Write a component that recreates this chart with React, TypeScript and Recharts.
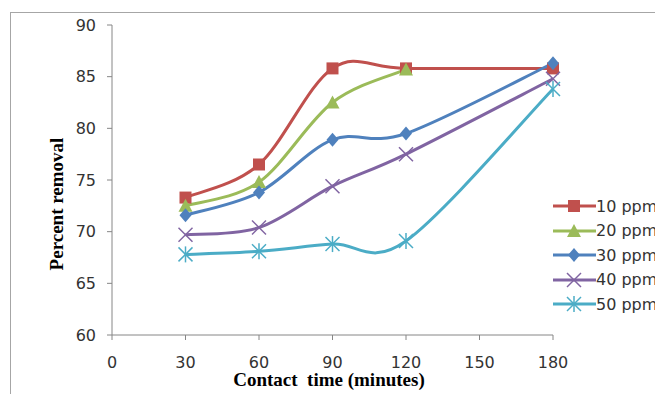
import React from 'react';
import { LineChart, Line, XAxis, YAxis } from 'recharts';

const times = [30, 60, 90, 120, 180];
const ppm10 = [73.3, 76.5, 85.8, 85.8, 85.8];
const ppm20 = [72.5, 74.8, 82.5, 85.7, null];
const ppm30 = [71.6, 73.8, 78.9, 79.5, 86.3];
const ppm40 = [69.7, 70.4, 74.4, 77.5, 84.8];
const ppm50 = [67.8, 68.1, 68.8, 69.1, 83.8];
const xTicks = [0, 30, 60, 90, 120, 150, 180];
const yTicks = [60, 65, 70, 75, 80, 85, 90];

const data = times.map((t, i) => ({
  t,
  p10: ppm10[i],
  p20: ppm20[i],
  p30: ppm30[i],
  p40: ppm40[i],
  p50: ppm50[i],
}));

// Excel-style smoothed line (Catmull-Rom through the points)
const excelCurve = (context: any) => {
  let pts: [number, number][] = [];
  return {
    areaStart() {},
    areaEnd() {},
    lineStart() {
      pts = [];
    },
    lineEnd() {
      const n = pts.length;
      if (!n) return;
      context.moveTo(pts[0][0], pts[0][1]);
      for (let i = 0; i < n - 1; i++) {
        const p0 = pts[i - 1] || pts[i];
        const p1 = pts[i];
        const p2 = pts[i + 1];
        const p3 = pts[i + 2] || p2;
        context.bezierCurveTo(
          p1[0] + (p2[0] - p0[0]) / 6,
          p1[1] + (p2[1] - p0[1]) / 6,
          p2[0] - (p3[0] - p1[0]) / 6,
          p2[1] - (p3[1] - p1[1]) / 6,
          p2[0],
          p2[1]
        );
      }
    },
    point(x: number, y: number) {
      pts.push([+x, +y]);
    },
  };
};

type Kind = 'square' | 'triangle' | 'diamond' | 'x' | 'star';

const marker = (kind: Kind, color: string, cx: number, cy: number, key?: any) => {
  const s = 6;
  if (kind === 'square')
    return <rect key={key} x={cx - s} y={cy - s} width={s * 2} height={s * 2} fill={color} />;
  if (kind === 'triangle')
    return (
      <polygon key={key} points={`${cx},${cy - 7} ${cx + 7},${cy + 6} ${cx - 7},${cy + 6}`} fill={color} />
    );
  if (kind === 'diamond')
    return (
      <polygon key={key} points={`${cx},${cy - 7} ${cx + 6},${cy} ${cx},${cy + 7} ${cx - 6},${cy}`} fill={color} />
    );
  if (kind === 'x')
    return (
      <g key={key} stroke={color} strokeWidth={1.5}>
        <line x1={cx - 7} y1={cy - 7} x2={cx + 7} y2={cy + 7} />
        <line x1={cx - 7} y1={cy + 7} x2={cx + 7} y2={cy - 7} />
      </g>
    );
  return (
    <g key={key} stroke={color} strokeWidth={1.5}>
      <line x1={cx - 7} y1={cy - 7} x2={cx + 7} y2={cy + 7} />
      <line x1={cx - 7} y1={cy + 7} x2={cx + 7} y2={cy - 7} />
      <line x1={cx} y1={cy - 8} x2={cx} y2={cy + 8} />
    </g>
  );
};

const series: { key: string; name: string; color: string; kind: Kind }[] = [
  { key: 'p10', name: '10 ppm', color: '#C0504D', kind: 'square' },
  { key: 'p20', name: '20 ppm', color: '#9BBB59', kind: 'triangle' },
  { key: 'p30', name: '30 ppm', color: '#4F81BD', kind: 'diamond' },
  { key: 'p40', name: '40 ppm', color: '#8064A2', kind: 'x' },
  { key: 'p50', name: '50 ppm', color: '#4BACC6', kind: 'star' },
];

const tickStyle = { fontFamily: 'DejaVu Sans', fontSize: 16, fill: '#333' };

export default function App() {
  return (
    <div style={{ position: 'absolute', left: 0, top: 0, width: 655, height: 394, background: '#fff', overflow: 'hidden' }}>
      <div
        style={{
          position: 'absolute',
          left: 10,
          top: 12,
          width: 700,
          height: 420,
          borderLeft: '1px solid #a6a6a6',
          borderTop: '1px solid #a6a6a6',
        }}
      />
      <LineChart
        width={655}
        height={394}
        data={data}
        margin={{ top: 25, right: 102, bottom: 29, left: 0 }}
        style={{ position: 'absolute', left: 0, top: 0 }}
      >
        <XAxis
          dataKey="t"
          type="number"
          domain={[0, 180]}
          ticks={xTicks}
          height={30}
          tickSize={5}
          tickMargin={17}
          stroke="#868686"
          tick={tickStyle}
          interval={0}
        />
        <YAxis
          type="number"
          domain={[60, 90]}
          ticks={yTicks}
          width={112}
          tickSize={5}
          tickMargin={11}
          stroke="#868686"
          tick={tickStyle}
          interval={0}
        />
        {series.map((s) => (
          <Line
            key={s.key}
            dataKey={s.key}
            name={s.name}
            type={excelCurve as any}
            stroke={s.color}
            strokeWidth={3}
            connectNulls={false}
            isAnimationActive={false}
            activeDot={false}
            dot={(p: any) =>
              p.cy == null || p.value == null ? <g key={p.key ?? p.index} /> : marker(s.kind, s.color, p.cx, p.cy, p.key ?? p.index)
            }
          />
        ))}
      </LineChart>
      {/* legend */}
      <div style={{ position: 'absolute', left: 553, top: 194 }}>
        {series.map((s) => (
          <div key={s.key} style={{ display: 'flex', alignItems: 'center', height: 24.5 }}>
            <svg width={43} height={20}>
              <line x1={0} y1={10} x2={43} y2={10} stroke={s.color} strokeWidth={3} />
              {marker(s.kind, s.color, 21, 10)}
            </svg>
            <span style={{ fontFamily: 'DejaVu Sans', fontSize: 16, color: '#333', whiteSpace: 'nowrap' }}>
              {s.name}
            </span>
          </div>
        ))}
      </div>
      <div
        style={{
          position: 'absolute',
          left: 57,
          top: 204,
          transform: 'translate(-50%, -50%) rotate(-90deg)',
          fontFamily: 'Liberation Serif',
          fontWeight: 'bold',
          fontSize: 19,
          whiteSpace: 'nowrap',
          color: '#000',
        }}
      >
        Percent removal
      </div>
      <div
        style={{
          position: 'absolute',
          left: 329,
          top: 380,
          transform: 'translate(-50%, -50%)',
          fontFamily: 'Liberation Serif',
          fontWeight: 'bold',
          fontSize: 19,
          whiteSpace: 'pre',
          color: '#000',
        }}
      >
        {'Contact  time (minutes)'}
      </div>
    </div>
  );
}
